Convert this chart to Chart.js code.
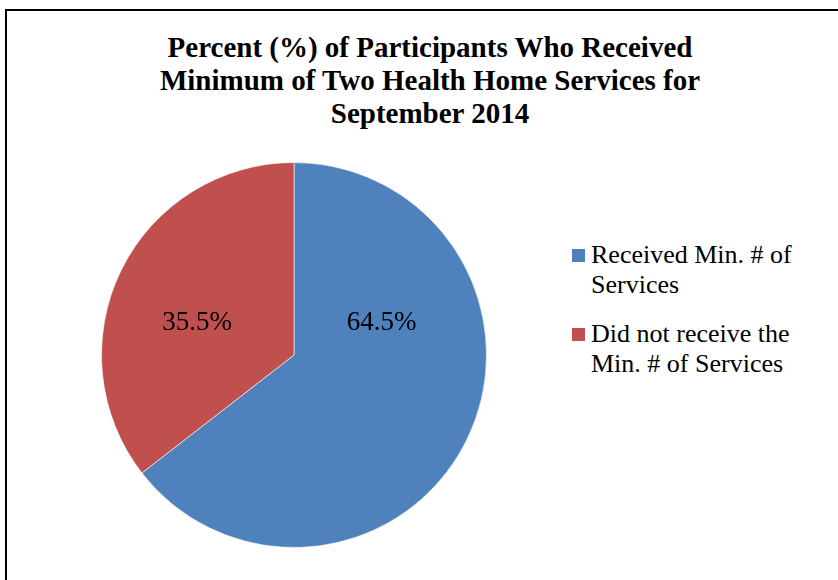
<!DOCTYPE html>
<html>
<head>
<meta charset="utf-8">
<script src="https://cdn.jsdelivr.net/npm/chart.js@4.4.1/dist/chart.umd.min.js"></script>
<style>
  body { margin: 0; width: 838px; height: 580px; overflow: hidden; background: #fff;
         font-family: "Liberation Serif", "Times New Roman", serif; color: #000; }
  #frame { position: absolute; left: 5px; top: 9px; width: 900px; height: 700px;
           border-left: 2px solid #000; border-top: 2px solid #000; }
  #title { position: absolute; left: 0; width: 860px; top: 31px; text-align: center;
           font-weight: bold; font-size: 29px; line-height: 33px; }
  #pieBox { position: absolute; left: 89px; top: 150px; width: 410px; height: 410px; }
  #legend { position: absolute; left: 572px; top: 240px; width: 260px; }
  .item { position: relative; padding-left: 19px; width: 225px; font-size: 26px; line-height: 30px; margin-bottom: 19px; }
  .swatch { position: absolute; left: 0; top: 9px; width: 13px; height: 13px; }
</style>
</head>
<body>
<div id="frame"></div>
<div id="title"></div>
<div id="pieBox"><canvas id="pie" width="410" height="410"></canvas></div>
<div id="legend"></div>
<script>
// chart data
var titleLines = ['Percent (%) of Participants Who Received', 'Minimum of Two Health Home Services for', 'September 2014'];
var categories = ['Received Min. # of Services', 'Did not receive the Min. # of Services'];
var percents = [64.5, 35.5];
var sliceColors = ['#4F81BD', '#C0504D'];

// where the % labels sit inside each slice (fraction of sweep, fraction of radius)
var labelSpot = [0.30, 0.44];
var labelRadius = [0.485, 0.53];

document.getElementById('title').innerHTML = titleLines.join('<br>');

var legend = document.getElementById('legend');
categories.forEach(function (name, i) {
    var item = document.createElement('div');
    item.className = 'item';
    item.innerHTML = '<span class="swatch" style="background:' + sliceColors[i] + '"></span>' + name;
    legend.appendChild(item);
});

var sliceLabels = {
    id: 'sliceLabels',
    afterDatasetsDraw: function (chart) {
        var ctx = chart.ctx;
        var meta = chart.getDatasetMeta(0);
        ctx.save();
        ctx.font = '27px "Liberation Serif"';
        ctx.fillStyle = '#000';
        ctx.textAlign = 'center';
        ctx.textBaseline = 'middle';
        meta.data.forEach(function (arc, i) {
            var p = arc.getProps(['x', 'y', 'startAngle', 'endAngle', 'outerRadius']);
            var a = p.startAngle + labelSpot[i] * (p.endAngle - p.startAngle);
            var r = p.outerRadius * labelRadius[i];
            ctx.fillText(percents[i].toFixed(1) + '%', p.x + r * Math.cos(a), p.y + r * Math.sin(a));
        });
        ctx.restore();
    }
};

new Chart(document.getElementById('pie'), {
    type: 'pie',
    data: {
        labels: categories,
        datasets: [{
            data: percents,
            backgroundColor: sliceColors,
            borderColor: 'rgba(255,255,255,0.6)',
            borderWidth: 1
        }]
    },
    options: {
        responsive: false,
        animation: false,
        layout: { padding: 12 },
        plugins: {
            legend: { display: false },
            tooltip: { enabled: false }
        }
    },
    plugins: [sliceLabels]
});
</script>
</body>
</html>
